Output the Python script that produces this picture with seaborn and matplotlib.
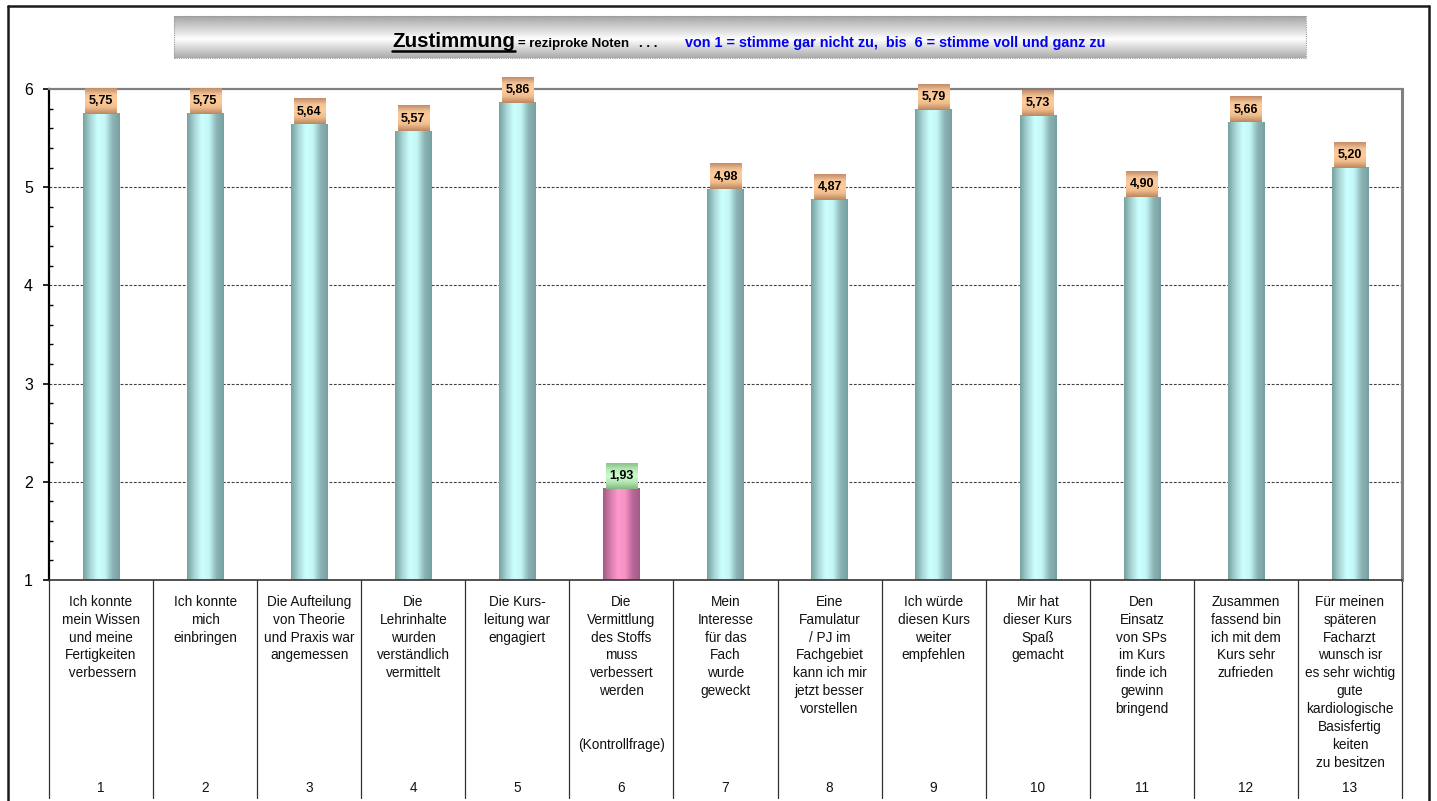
import numpy as np
import pandas as pd
import matplotlib
matplotlib.use("Agg")
import matplotlib.pyplot as plt
import matplotlib.transforms as mtransforms
import seaborn as sns
from matplotlib.colors import LinearSegmentedColormap
from matplotlib.lines import Line2D
from matplotlib.patches import Rectangle

# ---- survey data -------------------------------------------------------
item_numbers = [str(i) for i in range(1, 14)]
statements = [
    "Ich konnte\nmein Wissen\nund meine\nFertigkeiten\n verbessern",
    "Ich konnte\nmich\neinbringen",
    "Die Aufteilung\nvon Theorie\nund Praxis war\nangemessen",
    "Die\nLehrinhalte\nwurden\nverständlich\nvermittelt",
    "Die Kurs-\nleitung war\nengagiert",
    "Die\nVermittlung\ndes Stoffs\nmuss\nverbessert\nwerden\n\n\n(Kontrollfrage)",
    "Mein\nInteresse\nfür das\nFach\nwurde\ngeweckt",
    "Eine\nFamulatur\n/ PJ im\nFachgebiet\nkann ich mir\njetzt besser\nvorstellen",
    "Ich würde\ndiesen Kurs\nweiter\nempfehlen",
    "Mir hat\ndieser Kurs\nSpaß\ngemacht",
    "Den\nEinsatz\nvon SPs\nim Kurs\nfinde ich\ngewinn\nbringend",
    "Zusammen\nfassend bin\nich mit dem\nKurs sehr\nzufrieden",
    "Für meinen\nspäteren\nFacharzt\nwunsch isr\nes sehr wichtig\ngute\nkardiologische\nBasisfertig\nkeiten\nzu besitzen",
]
scores = [5.75, 5.75, 5.64, 5.57, 5.86, 1.93, 4.98, 4.87, 5.79, 5.73, 4.90, 5.66, 5.20]
control_items = ["6"]
y_ticks = [1, 2, 3, 4, 5, 6]

title_main = "Zustimmung"
title_note = "= reziproke Noten"
title_dots = ". . ."
title_scale = "von 1 = stimme gar nicht zu,  bis  6 = stimme voll und ganz zu"

# ---- styling -------------------------------------------------------------
sns.set_theme(style="white")
plt.rcParams["font.family"] = ["Liberation Sans", "DejaVu Sans"]

W, H = 1437, 801
fig = plt.figure(figsize=(W / 100, H / 100), dpi=100)
fig.patch.set_facecolor("white")

def fx(px):
    return px / W

def fy(py):
    return 1 - py / H

ax = fig.add_axes([fx(49), fy(580), fx(1402) - fx(49), fy(89) - fy(580)])

df = pd.DataFrame({"item": item_numbers, "score": scores})
df["kind"] = np.where(df["item"].isin(control_items), "control", "regular")

sns.barplot(data=df, x="item", y="score", hue="kind", dodge=False,
            palette={"regular": "#a8d8d8", "control": "#e890c0"},
            width=0.35, legend=False, ax=ax, order=item_numbers)

bar_cmaps = {
    "regular": LinearSegmentedColormap.from_list(
        "teal", ["#76a0a0", "#a8d4d4", "#ccffff", "#c4f6f6", "#8cb4b4", "#76a0a0"]),
    "control": LinearSegmentedColormap.from_list(
        "pink", ["#a05c84", "#d47cac", "#ff99cc", "#f794c4", "#b8689a", "#a05c84"]),
}
box_cmaps = {
    "regular": LinearSegmentedColormap.from_list(
        "tan", ["#c08c68", "#f4c496", "#ffcc99", "#f0bc8c", "#b88660"]),
    "control": LinearSegmentedColormap.from_list(
        "mint", ["#88c088", "#b8e8b8", "#ccffcc", "#b4e4b4", "#80b880"]),
}

h_grad = np.linspace(0, 1, 256).reshape(1, -1)
v_grad = np.linspace(0, 1, 128).reshape(-1, 1)

for patch in list(ax.patches):
    x0 = patch.get_x()
    w = patch.get_width()
    top = patch.get_y() + patch.get_height()
    if w == 0 or np.isnan(top):
        continue
    idx = int(round(x0 + w / 2))
    kind = df["kind"].iloc[idx]
    patch.set_visible(False)
    # cylinder-like shaded bar
    ax.imshow(h_grad, cmap=bar_cmaps[kind], aspect="auto",
              extent=(x0, x0 + w, 0, top), zorder=3, interpolation="bicubic")
    # value label box sitting on the bar
    cx = x0 + w / 2
    bw, bh = 0.30, 0.255
    img = ax.imshow(v_grad, cmap=box_cmaps[kind], aspect="auto",
                    extent=(cx - bw / 2, cx + bw / 2, top, top + bh),
                    zorder=7, interpolation="bicubic")
    img.set_clip_on(False)
    ax.text(cx, top + bh / 2, f"{top:.2f}".replace(".", ","), ha="center",
            va="center", fontsize=9, fontweight="bold", color="black",
            zorder=8, clip_on=False)

ax.set_xlim(-0.5, len(item_numbers) - 0.5)
ax.set_ylim(1, 6)
ax.set_xlabel("")
ax.set_ylabel("")

# y axis
ax.set_yticks(y_ticks)
ax.set_yticks(np.arange(1, 6.01, 0.2), minor=True)
ax.tick_params(axis="y", which="major", direction="out", length=4.5, width=1.2,
               color="black", labelsize=11.5, pad=7, left=True)
ax.tick_params(axis="y", which="minor", direction="in", length=3, width=1.0,
               color="black", left=True)
for lbl in ax.get_yticklabels():
    lbl.set_color("black")

# dotted horizontal gridlines
for t in y_ticks[1:-1]:
    ax.axhline(t, color="#404040", lw=0.8, ls=(0, (2.5, 1.5)), zorder=1)

# category labels under the axis
ax.set_xticks(range(len(item_numbers)))
ax.set_xticklabels(statements, fontsize=9.8, linespacing=1.36, va="top",
                   color="#111111")
ax.tick_params(axis="x", length=0, pad=10.5)

# spines
ax.spines["left"].set_color("black")
ax.spines["left"].set_linewidth(1.6)
ax.spines["bottom"].set_color("#333333")
ax.spines["bottom"].set_linewidth(1.2)
ax.spines["top"].set_color("#808080")
ax.spines["top"].set_linewidth(1.6)
ax.spines["right"].set_color("#808080")
ax.spines["right"].set_linewidth(2.2)
for s in ax.spines.values():
    s.set_visible(True)
    s.set_zorder(5)

# separators between categories and item numbers
trans = mtransforms.blended_transform_factory(ax.transData, fig.transFigure)
for b in np.arange(-0.5, len(item_numbers), 1.0):
    ax.add_line(Line2D([b, b], [fy(580), fy(798)], transform=trans,
                       color="#333333", lw=0.9, clip_on=False))
for i, num in enumerate(item_numbers):
    ax.text(i, fy(788), num, transform=trans, ha="center", va="center",
            fontsize=9.8, color="#111111")

# outer frame
for xs, ys in [([fx(8), fx(8)], [0, fy(6)]),
               ([fx(8), fx(1429)], [fy(6), fy(6)]),
               ([fx(1429), fx(1429)], [fy(6), 0])]:
    fig.add_artist(Line2D(xs, ys, transform=fig.transFigure,
                          color="#1a1a1a", lw=1.8))

# title banner
bax = fig.add_axes([fx(174), fy(58), fx(1306) - fx(174), fy(16) - fy(58)])
banner_cmap = LinearSegmentedColormap.from_list(
    "banner", [(0, "#a4a4a4"), (0.55, "#ffffff"), (1.0, "#aaaaaa")])
bax.imshow(v_grad, cmap=banner_cmap, aspect="auto", extent=(0, 1, 0, 1),
           interpolation="bicubic")
bax.set_xlim(0, 1)
bax.set_ylim(0, 1)
bax.axis("off")
bax.add_patch(Rectangle((0, 0), 1, 1, transform=bax.transAxes, fill=False,
                        ec="#999999", lw=0.8, ls=(0, (1, 1)), clip_on=False))

renderer = fig.canvas.get_renderer()
base_y = fy(47)
t1 = fig.text(fx(392), base_y, title_main, fontsize=14.8, fontweight="bold",
              va="baseline", ha="left", color="black")
ext = t1.get_window_extent(renderer)
fig.add_artist(Line2D([ext.x0 / W, ext.x1 / W], [fy(51), fy(51)],
                      transform=fig.transFigure, color="black", lw=1.8))
t2 = fig.text(ext.x1 / W + fx(3), base_y, title_note, fontsize=9.5,
              fontweight="bold", va="baseline", ha="left", color="black")
ext = t2.get_window_extent(renderer)
fig.text(ext.x1 / W + fx(10), base_y, title_dots, fontsize=9.5,
         fontweight="bold", va="baseline", ha="left", color="black")
fig.text(fx(685), base_y, title_scale, fontsize=10.4, fontweight="bold",
         va="baseline", ha="left", color="#0000ee")

fig.savefig("out.png", dpi=100, facecolor="white")
